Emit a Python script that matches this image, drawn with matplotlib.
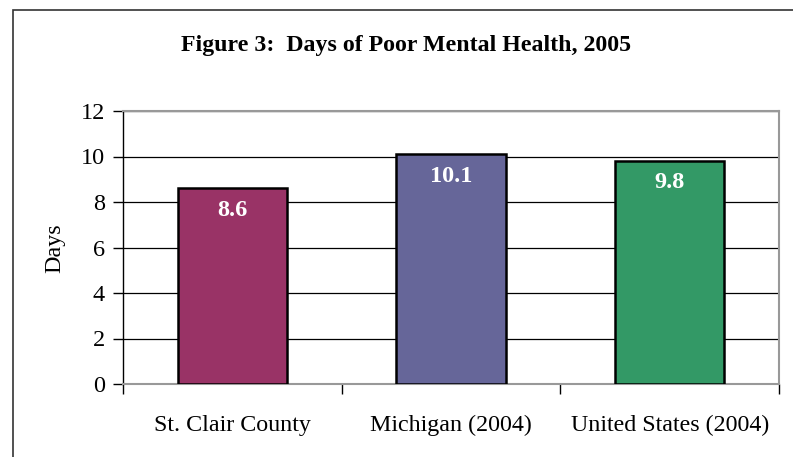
import matplotlib
matplotlib.use("Agg")
import matplotlib.pyplot as plt
from matplotlib.patches import Rectangle

# chart data
categories = ["St. Clair County", "Michigan (2004)", "United States (2004)"]
days = [8.6, 10.1, 9.8]
value_labels = ["8.6", "10.1", "9.8"]
bar_colors = ["#993366", "#666699", "#339966"]
y_ticks = [0, 2, 4, 6, 8, 10, 12]

plt.rcParams["font.family"] = ["Liberation Serif", "DejaVu Serif"]

fig = plt.figure(figsize=(7.93, 4.57), dpi=100)
fig.patch.set_facecolor("white")

# outer frame (only top and left edges visible in the crop)
fig.patches.append(Rectangle((13 / 793, -0.1), 1.2, 1 - 10 / 457 + 0.1,
                             transform=fig.transFigure, fill=False,
                             edgecolor="#333333", linewidth=1.2))

ax = fig.add_axes([123 / 793, 1 - 384 / 457, 656 / 793, 273 / 457])

x = list(range(len(categories)))
bars = ax.bar(x, days, width=0.5, color=bar_colors, edgecolor="black",
              linewidth=1.8, zorder=3)

for rect, label in zip(bars, value_labels):
    ax.text(rect.get_x() + rect.get_width() / 2, rect.get_height() - 0.5,
            label, ha="center", va="top", color="white",
            fontsize=17.5, fontweight="bold", zorder=4)

ax.set_xlim(-0.5, len(categories) - 0.5)
ax.set_ylim(0, 12)
ax.set_yticks(y_ticks)
ax.set_yticklabels([str(t) for t in y_ticks], fontsize=17.5)
ax.yaxis.grid(True, color="black", linewidth=0.9, zorder=0)
ax.tick_params(axis="y", direction="out", length=7, width=1, pad=6)

# category labels between boundary ticks
ax.set_xticks([i - 0.5 for i in range(len(categories) + 1)])
ax.set_xticklabels([])
ax.set_xticks(x, minor=True)
ax.set_xticklabels(categories, minor=True, fontsize=17.3)
ax.tick_params(axis="x", which="major", direction="out", length=7, width=1)
ax.tick_params(axis="x", which="minor", length=0, pad=22)

for side in ["top", "right", "bottom"]:
    ax.spines[side].set_color("#999999")
    ax.spines[side].set_linewidth(1.5)
ax.spines["left"].set_color("black")
ax.spines["left"].set_linewidth(1)

fig.text(406 / 793, 1 - 45 / 457, "Figure 3:  Days of Poor Mental Health, 2005",
         ha="center", va="center", fontsize=17.2, fontweight="bold")
fig.text(55 / 793, 1 - 248 / 457, "Days", rotation=90, ha="center",
         va="center", fontsize=17.3)

fig.savefig("out.png", dpi=100, facecolor="white")
